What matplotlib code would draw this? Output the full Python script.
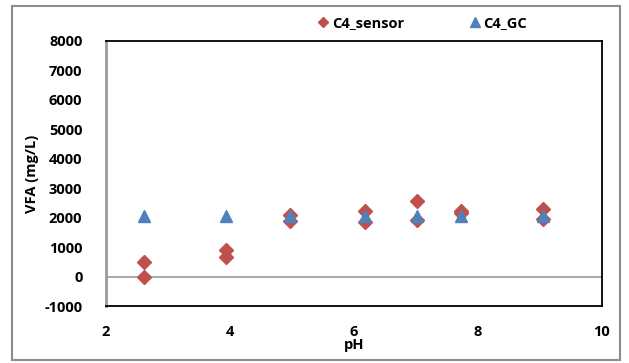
import numpy as np
import matplotlib.pyplot as plt
from matplotlib.patches import Rectangle

# pH of each run
ph_sensor = [2.62, 2.62, 3.93, 3.93, 4.96, 4.96, 6.18, 6.18, 7.01, 7.01, 7.73, 7.73, 9.05, 9.05]
vfa_sensor = [480, -20, 900, 660, 2090, 1900, 2230, 1840, 2570, 1910, 2230, 2150, 2280, 1950]

ph_gc = [2.62, 3.93, 4.96, 6.18, 7.01, 7.73, 9.05]
vfa_gc = [2050, 2050, 2040, 2050, 2050, 2060, 2040]

x_ticks = [2, 4, 6, 8, 10]
y_ticks = [-1000, 0, 1000, 2000, 3000, 4000, 5000, 6000, 7000, 8000]

plt.rcParams['font.family'] = ['Open Sans', 'DejaVu Sans']
plt.rcParams['font.weight'] = 'bold'
plt.rcParams['axes.unicode_minus'] = False

fig = plt.figure(figsize=(6.29, 3.63), dpi=100)
ax = fig.add_axes([106 / 629, 1 - 306 / 363, 496 / 629, 265 / 363])

# chart area border
fig.patches.append(Rectangle((12 / 629, 1 - 360 / 363), 608 / 629, 354 / 363,
                             transform=fig.transFigure, fill=False,
                             edgecolor='#8c8c8c', linewidth=1.5))

ax.axhline(0, color='#a0a0a0', linewidth=1.3, zorder=1)

ax.plot(ph_sensor, vfa_sensor, marker='D', linestyle='None', markersize=7,
        color='#c0504d', label='C4_sensor', zorder=3)
ax.plot(ph_gc, vfa_gc, marker='^', linestyle='None', markersize=9,
        color='#4f81bd', label='C4_GC', zorder=4)

ax.set_xlim(2, 10)
ax.set_ylim(-1000, 8000)
ax.set_xticks(x_ticks)
ax.set_yticks(y_ticks)
ax.tick_params(length=0, labelsize=10.5, pad=0)
ax.tick_params(axis='y', pad=17)
ax.tick_params(axis='x', pad=14)
for lbl in ax.get_xticklabels() + ax.get_yticklabels():
    lbl.set_fontweight('bold')

for side in ['top', 'right', 'bottom']:
    ax.spines[side].set_color('black')
    ax.spines[side].set_linewidth(1.3)
ax.spines['left'].set_color('#9a9a9a')
ax.spines['left'].set_linewidth(2)

ax.set_xlabel('pH', fontsize=10.5, fontweight='bold', labelpad=-1)
ax.set_ylabel('VFA (mg/L)', fontsize=10.5, fontweight='bold', labelpad=4)

leg = ax.legend(loc='center left', bbox_to_anchor=(0.43, 1.068), ncol=2, frameon=False,
                handlelength=0.5, handletextpad=0.35, columnspacing=4.6,
                borderaxespad=0, borderpad=0, markerscale=0.8,
                prop={'weight': 'bold', 'size': 10.5})

fig.savefig('out.png', dpi=100)
